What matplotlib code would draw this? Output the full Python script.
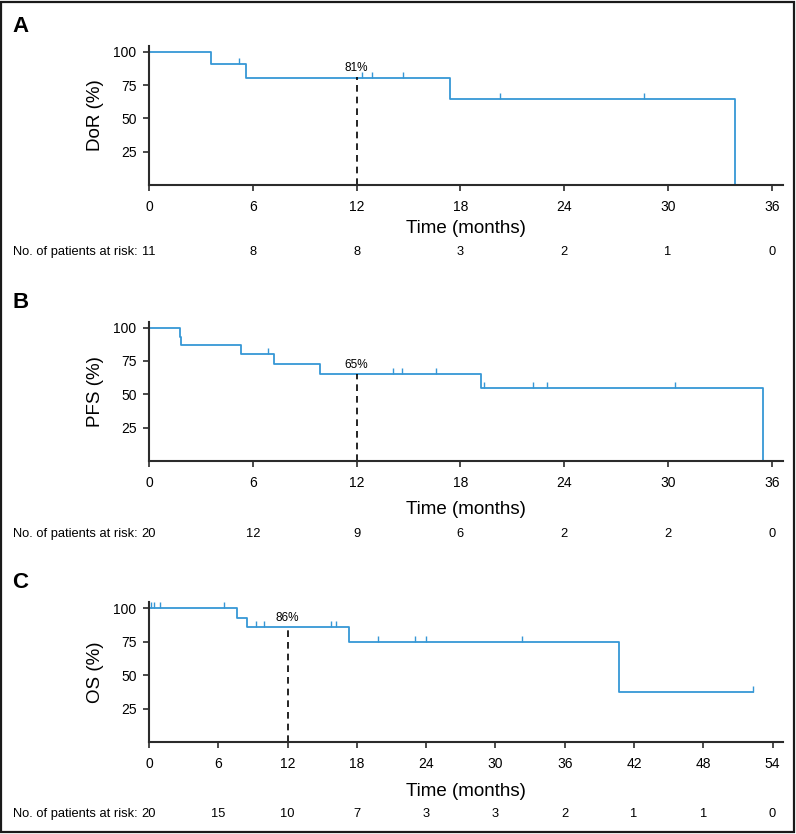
import numpy as np
import matplotlib
matplotlib.use('Agg')
import matplotlib.pyplot as plt
from matplotlib import font_manager
from matplotlib.transforms import blended_transform_factory
from matplotlib.patches import Rectangle

# Kaplan-Meier step data (months, %)
dor_times = [0, 3.6, 5.6, 17.4, 33.9]
dor_surv = [100, 90.9, 80.8, 64.6, 0]
dor_censor = [5.2, 12.3, 12.9, 14.7, 20.3, 28.6]
dor_risk = [11, 8, 8, 3, 2, 1, 0]

pfs_times = [0, 1.78, 1.86, 5.3, 7.2, 9.9, 19.2, 35.5]
pfs_surv = [100, 93.3, 86.7, 80.2, 72.9, 65.4, 54.5, 0]
pfs_censor = [6.9, 14.1, 14.6, 16.6, 19.35, 22.2, 23.0, 30.4]
pfs_risk = [20, 12, 9, 6, 2, 2, 0]

os_times = [0, 7.6, 8.5, 17.3, 40.7, 52.3]
os_surv = [100, 92.9, 85.7, 75.0, 37.5, 37.5]
os_censor = [0.17, 0.47, 0.95, 6.5, 9.25, 10.0, 15.8, 16.2, 19.8, 23.05, 24.0, 32.3, 52.3]
os_risk = [20, 15, 10, 7, 3, 3, 2, 1, 1, 0]

landmark = 12
dor_at_12, pfs_at_12, os_at_12 = 81, 65, 86

names = {f.name for f in font_manager.fontManager.ttflist}
base_font = 'Liberation Sans' if 'Liberation Sans' in names else 'DejaVu Sans'
narrow_font = 'Liberation Sans Narrow' if 'Liberation Sans Narrow' in names else base_font
plt.rcParams['font.family'] = base_font

BLUE = '#3697d6'
DARK = '#2b2b2b'

W, H = 796, 834
fig = plt.figure(figsize=(W / 100, H / 100), dpi=100)


def px_axes(left, top, right, bottom):
    return fig.add_axes([left / W, 1 - bottom / H, (right - left) / W, (bottom - top) / H])


def km_panel(ax, letter, ylabel, times, surv, censor, risk, at12, xmax, ymax, ticks, label_y, risk_y, letter_y):
    ax.step(times, surv, where='post', color=BLUE, lw=1.3)
    idx = np.searchsorted(times, censor, side='right') - 1
    cy = np.array(surv)[idx]
    ax.plot(censor, cy, linestyle='none', marker=2, markersize=4, mew=1.0, color=BLUE)
    ax.plot([landmark, landmark], [0, at12], color='black', ls=(0, (4, 3)), lw=1.2)
    ax.text(landmark, at12 + 2.5, f'{at12}%', ha='center', va='bottom', fontsize=8.5)

    ax.set_xlim(0, xmax)
    ax.set_ylim(0, ymax)
    ax.set_xticks(ticks)
    ax.set_yticks([25, 50, 75, 100])
    for s in ['top', 'right']:
        ax.spines[s].set_visible(False)
    for s in ['left', 'bottom']:
        ax.spines[s].set_color(DARK)
        ax.spines[s].set_linewidth(1.5)
    ax.tick_params(axis='x', length=4, width=1.2, color=DARK, pad=7, labelsize=10)
    ax.tick_params(axis='y', length=4, width=1.2, color=DARK, pad=5, labelsize=10)
    ax.set_ylabel(ylabel, fontsize=13.5, family=narrow_font, labelpad=7)

    fig.text(466 / W, 1 - label_y / H, 'Time (months)', ha='center', va='center',
             fontsize=13.5, family=narrow_font)
    fig.text(13 / W, 1 - risk_y / H, 'No. of patients at risk:', ha='left', va='center', fontsize=9.3)
    tr = blended_transform_factory(ax.transData, fig.transFigure)
    for t, n in zip(ticks, risk):
        ax.text(t, 1 - risk_y / H, str(n), transform=tr, ha='center', va='center', fontsize=9.3)
    fig.text(12 / W, 1 - letter_y / H, letter, ha='left', va='center', fontsize=16, weight='bold')


ax_a = px_axes(149, 46, 783, 185)
km_panel(ax_a, 'A', 'DoR (%)', dor_times, dor_surv, dor_censor, dor_risk, dor_at_12,
         36.65, 104.5, list(range(0, 37, 6)), 228, 252, 26)

ax_b = px_axes(149, 322, 783, 461)
km_panel(ax_b, 'B', 'PFS (%)', pfs_times, pfs_surv, pfs_censor, pfs_risk, pfs_at_12,
         36.65, 104.2, list(range(0, 37, 6)), 510, 534, 302)

ax_c = px_axes(149, 602, 783, 742)
km_panel(ax_c, 'C', 'OS (%)', os_times, os_surv, os_censor, os_risk, os_at_12,
         54.9, 104.6, list(range(0, 55, 6)), 791, 814, 583)

fig.patches.append(Rectangle((1 / W, 2 / H), 793 / W, 830 / H, transform=fig.transFigure,
                             fill=False, edgecolor='#1a1a1a', linewidth=1.6))

fig.savefig('out.png', dpi=100)
